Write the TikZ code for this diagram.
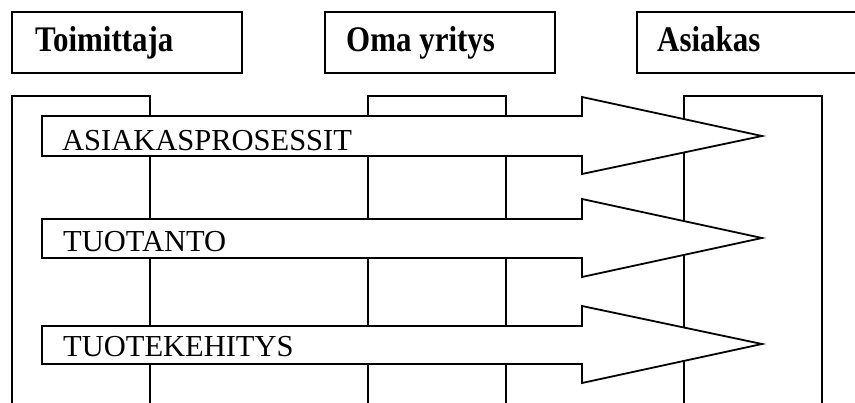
\documentclass[tikz,border=0pt]{standalone}
\usepackage{fontspec}
\setmainfont{Liberation Serif}
\begin{document}
\begin{tikzpicture}[x=1pt,y=-1pt,
  frame/.style={draw=black,line width=1.9pt},
  lane/.style={draw=black,line width=1.9pt,fill=white},
  flow/.style={draw=black,line width=1.8pt,fill=white,line join=miter},
  headtext/.style={anchor=base west,inner sep=0pt,font=\bfseries\fontsize{36}{36}\selectfont},
  flowtext/.style={anchor=base west,inner sep=0pt,font=\fontsize{30.5}{30.5}\selectfont}]
\useasboundingbox (0,0) rectangle (855,403);
\clip (0,0) rectangle (855,403);

% header boxes
\draw[frame] (12,12) rectangle (242,73);
\draw[frame] (325,12) rectangle (555,73);
\draw[frame] (637,12) rectangle (880,73);
\node[headtext] (toim) at (35,52) {\scalebox{0.86}[1.0]{Toimittaja}};
\node[headtext] (oma) at (346,52) {\scalebox{0.86}[1.0]{Oma yritys}};
\node[headtext] (asi) at (657,52) {\scalebox{0.86}[1.0]{Asiakas}};

% open-bottomed lanes
\draw[lane] (12,420) -- (12,96) -- (150,96) -- (150,420);
\draw[lane] (368,420) -- (368,96) -- (506,96) -- (506,420);
\draw[lane] (684,420) -- (684,96) -- (822,96) -- (822,420);

% process arrows
\draw[flow] (42,116) -- (582,116) -- (582,97) -- (762,136) -- (582,174) -- (582,156) -- (42,156) -- cycle;
\draw[flow] (42,219) -- (582,219) -- (582,199) -- (762,238) -- (582,277) -- (582,258) -- (42,258) -- cycle;
\draw[flow] (42,326) -- (582,326) -- (582,306) -- (762,344) -- (582,383) -- (582,364) -- (42,364) -- cycle;

\node[flowtext] (p1) at (62,151) {ASIAKASPROSESSIT};
\node[flowtext] (p2) at (63,252) {TUOTANTO};
\node[flowtext] (p3) at (63,357) {TUOTEKEHITYS};
\end{tikzpicture}
\end{document}
